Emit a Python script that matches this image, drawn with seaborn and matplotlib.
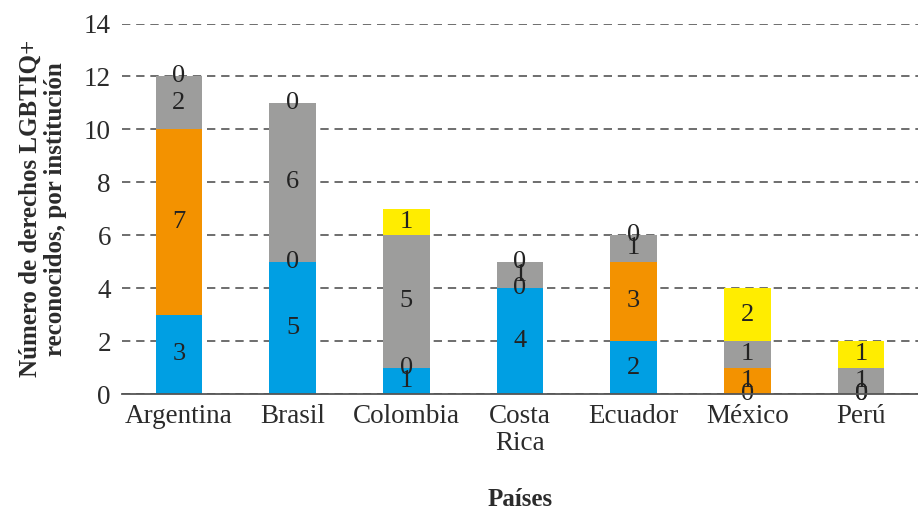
import matplotlib
matplotlib.use("Agg")
import matplotlib.pyplot as plt
import seaborn as sns
import numpy as np
import pandas as pd

paises = ["Argentina", "Brasil", "Colombia", "Costa\nRica", "Ecuador", "México", "Perú"]
azul = [3, 5, 1, 4, 2, 0, 0]
naranja = [7, 0, 0, 0, 3, 1, 0]
gris = [2, 6, 5, 1, 1, 1, 1]
amarillo = [0, 0, 1, 0, 0, 2, 1]

colores = ["#009FE3", "#F39200", "#9D9D9C", "#FFED00"]
series = [azul, naranja, gris, amarillo]

sns.set_style("white")
plt.rcParams["font.family"] = ["Liberation Serif", "DejaVu Serif"]

fig = plt.figure(figsize=(9.18, 5.13), dpi=100)
ax = fig.add_axes([122 / 918, (513 - 394) / 513, (918 - 122) / 918, (394 - 23.5) / 513])

cum = np.cumsum(np.array(series), axis=0)
# draw cumulative totals from top to bottom so stacks appear
for i in range(len(series) - 1, -1, -1):
    df = pd.DataFrame({"pais": paises, "valor": cum[i]})
    sns.barplot(data=df, x="pais", y="valor", color=colores[i], width=0.41,
                saturation=1, ax=ax, zorder=3, errorbar=None, linewidth=0,
                edgecolor="none")

# data labels
for i, s in enumerate(series):
    bottoms = cum[i] - np.array(s)
    for j, v in enumerate(s):
        ax.text(j, bottoms[j] + v / 2, str(v), ha="center", va="center",
                fontsize=19, color="#222222", zorder=5)

ax.set_ylim(0, 14)
ax.set_xlim(-0.5, 6.5)
ax.set_yticks(range(0, 15, 2))
ax.yaxis.grid(True, linestyle=(0, (5, 3.5)), color="#555555", linewidth=1.2, zorder=0)
ax.xaxis.grid(False)
ax.set_axisbelow(True)
for sp in ["top", "right", "left"]:
    ax.spines[sp].set_visible(False)
ax.spines["bottom"].set_color("#555555")
ax.spines["bottom"].set_linewidth(1.3)
ax.spines["bottom"].set_zorder(6)
ax.tick_params(axis="both", length=0, labelsize=19.5, colors="#2b2b2b")
ax.tick_params(axis="y", pad=8)
ax.tick_params(axis="x", pad=7)
for lbl in ax.get_xticklabels():
    lbl.set_linespacing(1.1)

ax.set_xlabel("Países", fontsize=18, fontweight="bold", color="#2b2b2b", va="center")
ax.xaxis.set_label_coords(0.5, (394 - 499) / 370.5)
ax.set_ylabel("Número de derechos LGBTIQ+\nreconocidos, por institución", fontsize=18,
              fontweight="bold", color="#2b2b2b", labelpad=12, linespacing=1.15)

fig.savefig("out.png", dpi=100)
